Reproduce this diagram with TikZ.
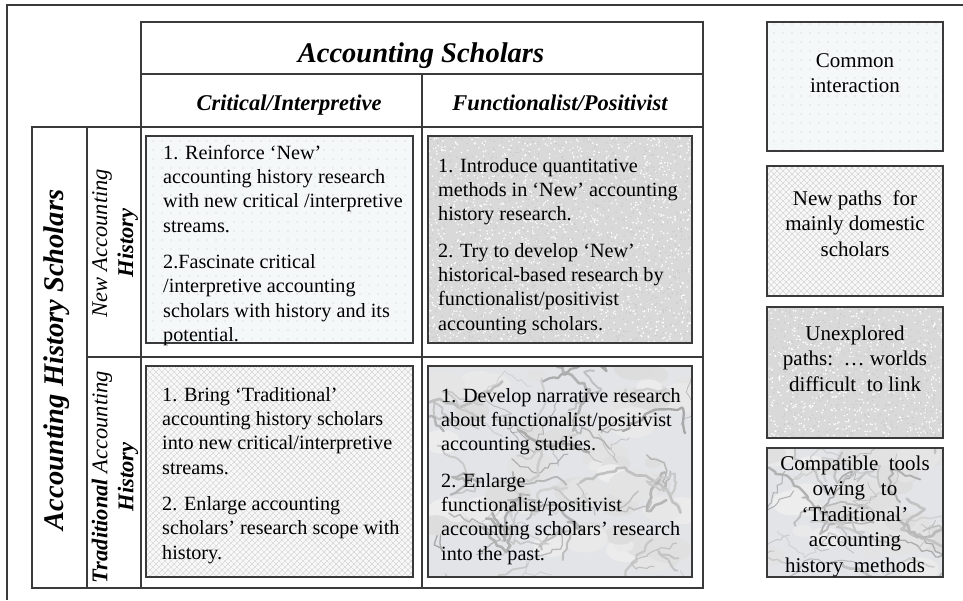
\documentclass[tikz,border=0pt]{standalone}
\usepackage{fontspec}
\setmainfont{Liberation Serif}
\usetikzlibrary{patterns,decorations.pathmorphing}

\definecolor{dotbase}{HTML}{F4F8F9}
\definecolor{hatchbase}{HTML}{F8F8F8}
\definecolor{granbase}{HTML}{D9D9D9}
\definecolor{marbase}{HTML}{E2E4E8}
\definecolor{frame}{HTML}{3A3A3A}

\pgfdeclarepatternformonly{mydots}{\pgfqpoint{-1pt}{-1pt}}{\pgfqpoint{1pt}{1pt}}{\pgfqpoint{9pt}{9pt}}{\pgfpathcircle{\pgfpointorigin}{0.6pt}\pgfusepath{fill}}
\pgfdeclarepatternformonly{myhatch}{\pgfqpoint{-1pt}{-1pt}}{\pgfqpoint{7pt}{7pt}}{\pgfqpoint{6pt}{6pt}}{\pgfsetlinewidth{0.35pt}\pgfpathmoveto{\pgfqpoint{0pt}{0pt}}\pgfpathlineto{\pgfqpoint{6pt}{6pt}}\pgfpathmoveto{\pgfqpoint{0pt}{6pt}}\pgfpathlineto{\pgfqpoint{6pt}{0pt}}\pgfusepath{stroke}}

\newcommand{\granitefill}[5]{%
  \begin{scope}
    \clip (#1,#2) rectangle (#3,#4);
    \fill[granbase] (#1,#2) rectangle (#3,#4);
    \foreach \k in {1,...,#5}{
      \pgfmathsetmacro{\px}{#1+(#3-#1)*rnd}
      \pgfmathsetmacro{\py}{#2+(#4-#2)*rnd}
      \fill[gray!42] (\px,\py) circle (0.75);
      \pgfmathsetmacro{\qx}{#1+(#3-#1)*rnd}
      \pgfmathsetmacro{\qy}{#2+(#4-#2)*rnd}
      \fill[white] (\qx,\qy) circle (0.9);
    }
  \end{scope}}

\newcommand{\marblefill}[5]{%
  \begin{scope}
    \clip (#1,#2) rectangle (#3,#4);
    \fill[marbase] (#1,#2) rectangle (#3,#4);
    \foreach \k in {1,...,#5}{
      \pgfmathsetmacro{\bx}{#1+(#3-#1)*rnd}
      \pgfmathsetmacro{\by}{#2+(#4-#2)*rnd}
      \pgfmathsetmacro{\br}{5+12*rnd}
      \pgfmathtruncatemacro{\bg}{14+14*rnd}
      \fill[gray!\bg] (\bx,\by) ellipse ({1.6*\br} and {\br});
    }
    \foreach \k in {1,...,#5}{
      \pgfmathsetmacro{\ax}{#1+(#3-#1)*rnd}
      \pgfmathsetmacro{\ay}{#2+(#4-#2)*rnd}
      \pgfmathsetmacro{\lw}{0.6+2.2*rnd}
      \pgfmathtruncatemacro{\gv}{35+35*rnd}
      \draw[gray!\gv, line width=\lw pt, line cap=round, line join=round, decorate,
        decoration={random steps, segment length=5pt, amplitude=2.5pt}]
        (\ax,\ay) -- ++({50*rand},{25*rand}) -- ++({40*rand},{30*rand}) -- ++({30*rand},{30*rand});
    }
  \end{scope}}

\tikzset{
  cell/.style={draw=frame, line width=1.1pt, anchor=north west, inner sep=0pt, outer sep=0pt},
  ibox/.style={draw=frame, line width=1.6pt, anchor=north west, inner sep=0pt, outer sep=0pt},
  dotfill/.style={preaction={fill=dotbase}, pattern=mydots, pattern color=gray!45},
  hatchfill/.style={preaction={fill=hatchbase}, pattern=myhatch, pattern color=gray!40},
  celltext/.style={anchor=north west, inner sep=0pt, align=left, font=\fontsize{20.2}{24.3}\selectfont},
  legtext/.style={anchor=north, inner sep=0pt, align=center, font=\fontsize{21}{25.5}\selectfont},
  hdr/.style={inner sep=0pt, font=\fontsize{28.5}{30}\selectfont\bfseries\itshape},
  subhdr/.style={inner sep=0pt, font=\fontsize{22.5}{24}\selectfont\bfseries\itshape},
  sidehdr/.style={inner sep=0pt, rotate=90, align=center, font=\fontsize{22.5}{26}\selectfont},
}

\begin{document}
\begin{tikzpicture}[x=1pt, y=-1pt]
\pgfmathsetseed{12}
\useasboundingbox (0,0) rectangle (963,600);
\fill[white] (0,0) rectangle (963,600);

% outer frame
\draw[frame, line width=1.2pt] (963,5) -- (7,5) -- (7,600);

% table cells
\node[cell, minimum width=562, minimum height=52] (hd) at (141,22) {};
\node[cell, minimum width=281, minimum height=53] (ci) at (141,74) {};
\node[cell, minimum width=281, minimum height=53] (fp) at (422,74) {};
\node[cell, minimum width=55, minimum height=461] (ahs) at (32,127) {};
\node[cell, minimum width=54, minimum height=230] (nah) at (87,127) {};
\node[cell, minimum width=54, minimum height=231] (tah) at (87,357) {};
\node[cell, minimum width=281, minimum height=230] (c11) at (141,127) {};
\node[cell, minimum width=281, minimum height=230] (c12) at (422,127) {};
\node[cell, minimum width=281, minimum height=231] (c21) at (141,357) {};
\node[cell, minimum width=281, minimum height=231] (c22) at (422,357) {};

% textures
\granitefill{428}{136}{692}{343}{1500}
\marblefill{428}{366}{692}{577}{55}
\granitefill{767}{307}{943}{438}{650}
\marblefill{767}{448}{943}{577}{34}

% inner boxes
\node[ibox, dotfill, minimum width=267, minimum height=207] (b11) at (146,136) {};
\node[ibox, minimum width=264, minimum height=207] (b12) at (428,136) {};
\node[ibox, hatchfill, minimum width=267, minimum height=211] (b21) at (146,366) {};
\node[ibox, minimum width=264, minimum height=211] (b22) at (428,366) {};

% legend boxes
\node[ibox, dotfill, minimum width=176, minimum height=129] (l1) at (767,22) {};
\node[ibox, hatchfill, minimum width=176, minimum height=130] (l2) at (767,166) {};
\node[ibox, minimum width=176, minimum height=131] (l3) at (767,307) {};
\node[ibox, minimum width=176, minimum height=129] (l4) at (767,448) {};

% headers
\node[hdr, anchor=base] (t-as) at (421,62) {Accounting Scholars};
\node[subhdr, anchor=base] (t-ci) at (289,110) {Critical/Interpretive};
\node[subhdr, anchor=base] (t-fp) at (560,110) {Functionalist/Positivist};
\node[hdr, rotate=90, anchor=base] (t-ahs) at (63.5,360) {Accounting History Scholars};
\node[sidehdr] (t-nah) at (115,243) {\textit{New Accounting}\\\textbf{\textit{History}}};
\node[sidehdr] (t-tah) at (115,477) {\textbf{\textit{Traditional}} \textit{Accounting}\\\textbf{\textit{History}}};

% cell texts
\node[celltext] (x11) at (163,142) {\strut 1. Reinforce ‘New’\\accounting history research\\with new critical /interpretive\\streams.\\[12pt]2.Fascinate critical\\/interpretive accounting\\scholars with history and its\\potential.};
\node[celltext] (x12) at (438,155) {\strut 1. Introduce quantitative\\methods in ‘New’ accounting\\history research.\\[12pt]2. Try to develop ‘New’\\historical-based research by\\functionalist/positivist\\accounting scholars.};
\node[celltext] (x21) at (162,384) {\strut 1. Bring ‘Traditional’\\accounting history scholars\\into new critical/interpretive\\streams.\\[12pt]2. Enlarge accounting\\scholars’ research scope with\\history.};
\node[celltext] (x22) at (441,385) {\strut 1. Develop narrative research\\about functionalist/positivist\\accounting studies.\\[12pt]2. Enlarge\\functionalist/positivist\\accounting scholars’ research\\into the past.};

% legend texts
\node[legtext] (y1) at (855,49.2) {\strut Common\\interaction};
\node[legtext] (y2) at (855,187.2) {\strut New paths\ \ for\\mainly domestic\\scholars};
\node[legtext] (y3) at (855,322.2) {\strut Unexplored\\paths:\ \ …\ worlds\\difficult\ \ to link};
\node[legtext] (y4) at (855,452.2) {\strut Compatible\ \ tools\\owing\ \ \ to\\‘Traditional’\\accounting\\history\ \ methods};
\end{tikzpicture}
\end{document}
